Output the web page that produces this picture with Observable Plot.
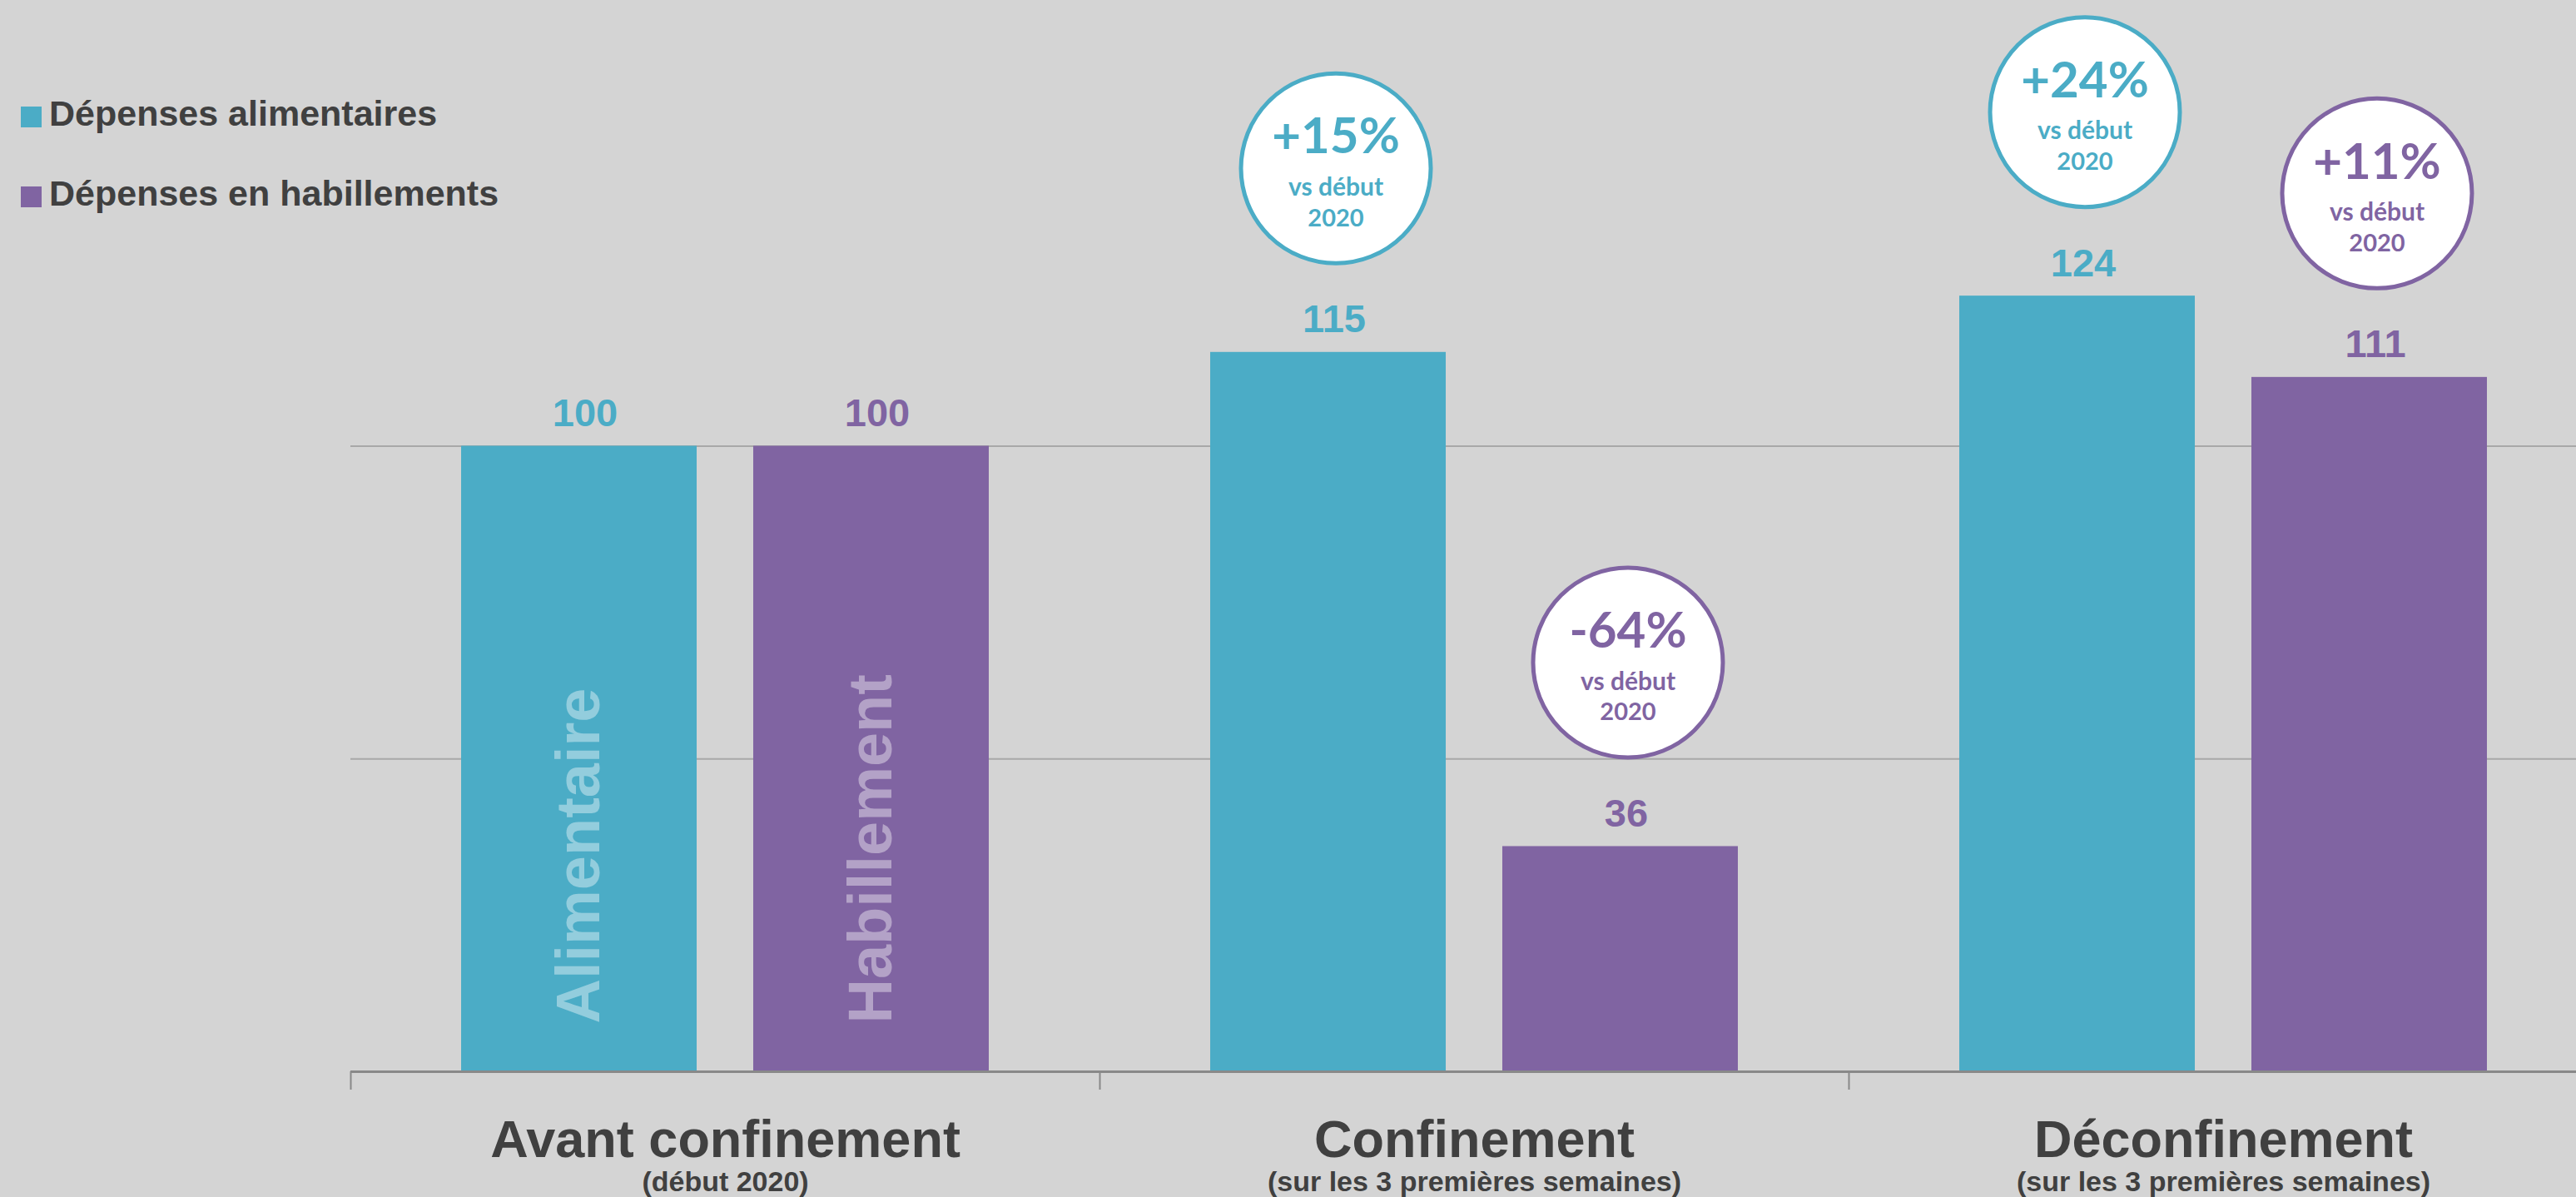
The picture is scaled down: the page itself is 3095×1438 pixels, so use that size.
<!DOCTYPE html>
<html><head><meta charset="utf-8">
<script src="https://cdn.jsdelivr.net/npm/d3@7"></script>
<script src="https://cdn.jsdelivr.net/npm/@observablehq/plot@0.6"></script>
<style>
html,body{margin:0;padding:0;background:#d4d4d4;}
#wrap{position:relative;width:3095px;height:1438px;overflow:hidden;}
#legend{position:absolute;left:0;top:0;font-family:"Liberation Sans",Arial,sans-serif;font-weight:bold;font-size:43px;line-height:43px;color:#404040;}
.sw{position:absolute;width:25px;height:25px;}
.lt{position:absolute;white-space:nowrap;}
#chart svg{display:block;}
</style></head>
<body><div id="wrap"><div id="chart"></div><div id="legend"></div></div>
<script>
const categories = ["Avant confinement", "Confinement", "Déconfinement"];
const subtitles = ["(début 2020)", "(sur les 3 premières semaines)", "(sur les 3 premières semaines)"];
const series = ["Dépenses alimentaires", "Dépenses en habillements"];
const seriesShort = ["Alimentaire", "Habillement"];
const alimentaire = [100, 115, 124];
const habillement = [100, 36, 111];
const colors = ["#4bacc6", "#8064a2"];
const lightColors = ["#93cddd", "#b3a2c7"];
const baseNote = ["vs début", "2020"];

const seriesValues = [alimentaire, habillement];
const rows = [];
categories.forEach((c, i) => {
  seriesValues.forEach((vals, s) => rows.push({ci: i, category: c, s, short: seriesShort[s], value: vals[i], base: vals[0]}));
});
const inner = d3.scaleBand().domain([0, 1]).range([0, 1]).paddingInner(0.1937).paddingOuter(0.379);
const x1 = d => d.ci + inner(d.s);
const x2 = d => d.ci + inner(d.s) + inner.bandwidth();
const xc = d => d.ci + inner(d.s) + inner.bandwidth() / 2;
const changes = rows.filter(d => d.ci > 0);
const pct = d => { const p = Math.round((d.value / d.base - 1) * 100); return (p > 0 ? "+" : "-") + Math.abs(p) + "%"; };
const catRows = categories.map((c, i) => ({x: i + 0.5, title: c, sub: subtitles[i]}));
const boundaries = categories.map((c, i) => i);

const bubbleFont = "Lato, 'Open Sans', sans-serif";
const plot = Plot.plot({
  width: 3095, height: 1438,
  marginTop: 0, marginRight: 0, marginBottom: 151, marginLeft: 421,
  style: {background: "transparent", fontFamily: "'Liberation Sans', Arial, sans-serif", overflow: "visible"},
  x: {type: "linear", domain: [0, categories.length], range: [421, 3121], axis: null},
  y: {domain: [0, 171.26], axis: null},
  marks: [
    Plot.ruleY([50, 100], {stroke: "#a8a8a8", strokeWidth: 2}),
    Plot.rectY(rows, {x1, x2, y: "value", fill: d => colors[d.s]}),
    Plot.ruleY([0], {stroke: "#898989", strokeWidth: 3}),
    Plot.axisX({ticks: boundaries, tickSize: 22, tickFormat: () => "", label: null, stroke: "#898989", strokeWidth: 2}),
    Plot.text(rows.filter(d => d.ci === 0), {x: xc, y: 0, text: "short", rotate: -90, textAnchor: "start", lineAnchor: "middle", dy: -58, fontSize: 74, fontWeight: "bold", fill: d => lightColors[d.s]}),
    Plot.text(rows, {x: xc, y: "value", text: d => String(d.value), lineAnchor: "bottom", dy: -24, dx: 7, fontSize: 47, fontWeight: "bold", fill: d => colors[d.s]}),
    Plot.dot(changes, {x: xc, y: "value", r: 114, dx: 9, dy: -221, fill: "white", stroke: d => colors[d.s], strokeWidth: 5}),
    Plot.text(changes, {x: xc, y: "value", text: pct, dx: 9, dy: -258, fontSize: 60, fontWeight: "bold", fontFamily: bubbleFont, fill: d => colors[d.s]}),
    Plot.text(changes, {x: xc, y: "value", text: () => baseNote[0], dx: 9, dy: -198, fontSize: 30, fontWeight: "bold", fontFamily: bubbleFont, fill: d => colors[d.s]}),
    Plot.text(changes, {x: xc, y: "value", text: () => baseNote[1], dx: 9, dy: -161, fontSize: 29, fontWeight: "bold", fontFamily: bubbleFont, fill: d => colors[d.s]}),
    Plot.text(catRows, {x: "x", frameAnchor: "bottom", text: "title", lineAnchor: "bottom", dy: 102, fontSize: 63, fontWeight: "bold", fill: "#404040"}),
    Plot.text(catRows, {x: "x", frameAnchor: "bottom", text: "sub", lineAnchor: "bottom", dy: 143, fontSize: 34, fontWeight: "bold", fill: "#404040"})
  ]
});
document.getElementById("chart").appendChild(plot);

const legend = document.getElementById("legend");
series.forEach((name, s) => {
  const sw = document.createElement("div");
  sw.className = "sw";
  sw.style.left = "25px";
  sw.style.top = (128 + s * 96) + "px";
  sw.style.background = colors[s];
  legend.appendChild(sw);
  const t = document.createElement("div");
  t.className = "lt";
  t.style.left = "59px";
  t.style.top = (115 + s * 96) + "px";
  t.textContent = name;
  legend.appendChild(t);
});
</script>
</body></html>
